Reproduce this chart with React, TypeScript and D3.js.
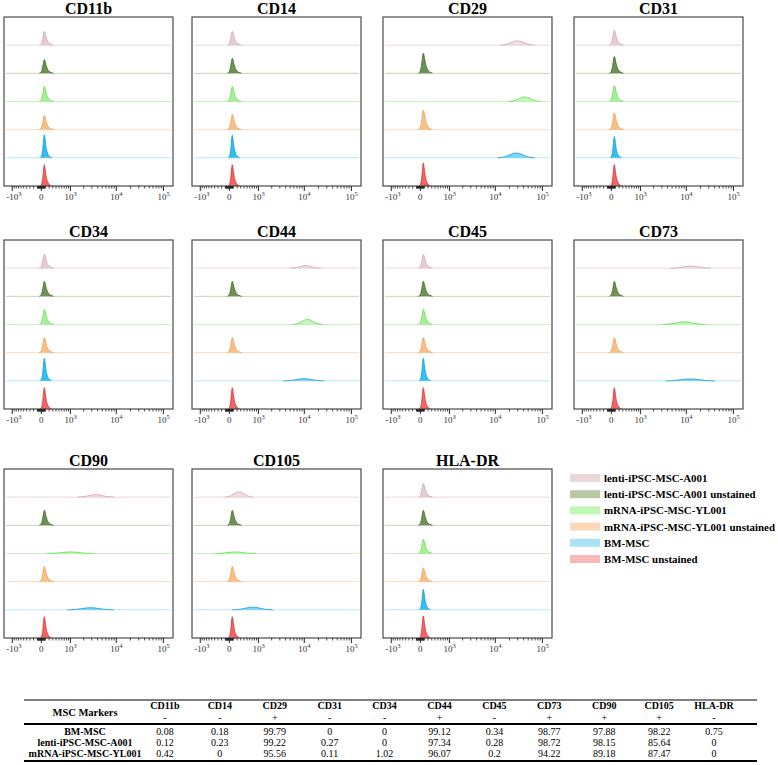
import React from 'react';
import * as d3 from 'd3';

const markers = ['CD11b', 'CD14', 'CD29', 'CD31', 'CD34', 'CD44', 'CD45', 'CD73', 'CD90', 'CD105', 'HLA-DR'];
const samples = [
  'lenti-iPSC-MSC-A001',
  'lenti-iPSC-MSC-A001 unstained',
  'mRNA-iPSC-MSC-YL001',
  'mRNA-iPSC-MSC-YL001 unstained',
  'BM-MSC',
  'BM-MSC unstained',
];
const fillColors = ['#e3c3c8', '#557f37', '#96ee86', '#f7b574', '#13b2ef', '#ef4a4a'];
const strokeColors = ['#cfa7ad', '#3e6a24', '#66d955', '#ef9d4f', '#0a9fdc', '#e22f2f'];
const baseColors = ['#ead8da', '#c9d3bd', '#c4f5bb', '#fbdcc0', '#b8e6f8', '#f7c2c2'];
const swatchColors = ['#ecd7d9', '#b6c9a3', '#c0f6b6', '#fdd8b6', '#aae3f7', '#f9b8b8'];

// peak: [centre fluorescence, spread (asinh units), height (fraction of lane)]
const lentiPeaks = [[70, 1, 0.55], [70, 1, 0.55], [29600, 0.85, 0.16], [70, 1, 0.6], [70, 1, 0.55], [10700, 0.75, 0.1], [70, 1, 0.55], [12300, 1.0, 0.08], [3600, 0.9, 0.1], [250, 0.7, 0.2], [70, 1, 0.55]];
const lentiUnstainedPeaks = [[70, 1, 0.55], [70, 1, 0.6], [70, 1, 0.8], [70, 1, 0.67], [70, 1, 0.6], [70, 1, 0.6], [70, 1, 0.6], [70, 1, 0.6], [70, 1, 0.6], [70, 1, 0.6], [70, 1, 0.6]];
const mrnaPeaks = [[70, 1, 0.6], [70, 1, 0.6], [42000, 0.8, 0.17], [70, 1, 0.64], [70, 1, 0.6], [11700, 0.75, 0.19], [70, 1, 0.6], [9000, 1.1, 0.1], [1000, 1.15, 0.06], [150, 1.0, 0.06], [70, 1, 0.57]];
const mrnaUnstainedPeaks = [[70, 1, 0.57], [70, 1, 0.6], [70, 1, 0.78], [70, 1, 0.67], [70, 1, 0.6], [70, 1, 0.6], [70, 1, 0.6], [70, 1, 0.6], [70, 1, 0.6], [70, 1, 0.6], [70, 1, 0.55]];
const bmPeaks = [[70, 0.8, 0.92], [70, 0.8, 0.9], [28000, 0.9, 0.18], [70, 0.8, 0.85], [70, 0.8, 0.9], [9800, 1.0, 0.08], [70, 0.8, 0.9], [12000, 1.2, 0.07], [2830, 1.15, 0.08], [720, 1.0, 0.1], [70, 0.8, 0.82]];
const bmUnstainedPeaks = [[70, 0.8, 0.85], [70, 0.8, 0.85], [70, 0.8, 0.92], [70, 0.8, 0.85], [70, 0.8, 0.85], [70, 0.8, 0.85], [70, 0.8, 0.85], [70, 0.8, 0.85], [70, 0.8, 0.85], [70, 0.8, 0.85], [70, 0.8, 0.88]];
const samplePeaks = [lentiPeaks, lentiUnstainedPeaks, mrnaPeaks, mrnaUnstainedPeaks, bmPeaks, bmUnstainedPeaks];

// histogram outlines (offset in asinh units, relative count)
const narrowShape = [[-0.24, 0], [-0.13, 0.06], [-0.06, 0.45], [0, 1], [0.05, 0.78], [0.11, 0.42], [0.2, 0.16], [0.32, 0.05], [0.46, 0]];
const broadShape = [[-1, 0], [-0.8, 0.06], [-0.6, 0.2], [-0.4, 0.5], [-0.2, 0.85], [0, 1], [0.2, 0.85], [0.4, 0.5], [0.6, 0.2], [0.8, 0.06], [1, 0]];

const majorTicks = [-1000, 0, 1000, 10000, 100000];
const minorTicks = [
  -900, -800, -700, -600, -500, -400, -300, -200, -100, -90, -80, -70, -60, -50, -40, -30, -20, -10,
  10, 20, 30, 40, 50, 60, 70, 80, 90, 100, 200, 300, 400, 500, 600, 700, 800, 900,
  2000, 3000, 4000, 5000, 6000, 7000, 8000, 9000, 20000, 30000, 40000, 50000, 60000, 70000, 80000, 90000,
];
const tickLabels = [['-10', '3'], ['0', ''], ['10', '3'], ['10', '4'], ['10', '5']];

const tableSigns = ['-', '-', '+', '-', '-', '+', '-', '+', '+', '+', '-'];
const tableRows = ['BM-MSC', 'lenti-iPSC-MSC-A001', 'mRNA-iPSC-MSC-YL001'];
const bmValues = [0.08, 0.18, 99.79, 0, 0, 99.12, 0.34, 98.77, 97.88, 98.22, 0.75];
const lentiValues = [0.12, 0.23, 99.22, 0.27, 0, 97.34, 0.28, 98.72, 98.15, 85.64, 0];
const mrnaValues = [0.42, 0, 95.56, 0.11, 1.02, 96.07, 0.2, 94.22, 89.18, 87.47, 0];
const tableValues = [bmValues, lentiValues, mrnaValues];

const W = 169;
const H = 169;
const colLefts = [4, 192, 383, 574];
const rowTops = [17, 240, 469];
const FONT = '"Liberation Serif", "Times New Roman", serif';

const A = 513;
const T = (v: number) => Math.asinh(v / A);
const xScale = d3.scaleLinear().domain([T(-1550), T(160000)]).range([0, W]);
const laneH = H / samples.length;

function Panel({ mi, left, top }: { mi: number; left: number; top: number }) {
  const clipId = `clip-${mi}`;
  return (
    <g transform={`translate(${left},${top})`}>
      <text x={W / 2} y={-3} textAnchor="middle" fontFamily={FONT} fontWeight="bold" fontSize={16} fill="#000">
        {markers[mi]}
      </text>
      <defs>
        <clipPath id={clipId}>
          <rect x={0} y={0} width={W} height={H} />
        </clipPath>
      </defs>
      <g clipPath={`url(#${clipId})`}>
        {samples.map((s, si) => {
          const base = (si + 1) * laneH;
          const [c, spread, h] = samplePeaks[si][mi];
          const shape = spread >= 0.7 && c > 120 ? broadShape : narrowShape;
          const tc = T(c);
          const area = d3
            .area<number[]>()
            .x((d) => xScale(tc + d[0] * spread))
            .y0(base)
            .y1((d) => base - d[1] * h * laneH)
            .curve(d3.curveBasis);
          const line = d3
            .line<number[]>()
            .x((d) => xScale(tc + d[0] * spread))
            .y((d) => base - d[1] * h * laneH)
            .curve(d3.curveBasis);
          return (
            <g key={s}>
              {si < samples.length - 1 && (
                <line x1={2} x2={W - 2} y1={base} y2={base} stroke={baseColors[si]} strokeWidth={1} />
              )}
              <path d={area(shape) || ''} fill={fillColors[si]} fillOpacity={shape === broadShape ? 0.55 : 0.85} />
              <path d={line(shape) || ''} fill="none" stroke={strokeColors[si]} strokeWidth={0.8} />
            </g>
          );
        })}
      </g>
      <rect x={0} y={0} width={W} height={H} fill="none" stroke="#4a4a4a" strokeWidth={1.2} />
      {minorTicks.map((t) => (
        <line key={`m${t}`} x1={xScale(T(t))} x2={xScale(T(t))} y1={H} y2={H + 2.5} stroke="#222" strokeWidth={0.8} />
      ))}
      {majorTicks.map((t, i) => (
        <g key={`M${t}`}>
          <line x1={xScale(T(t))} x2={xScale(T(t))} y1={H} y2={H + 5} stroke="#222" strokeWidth={1} />
          <text
            x={xScale(T(t)) + (tickLabels[i][1] ? -6 : 0)}
            y={H + 14}
            textAnchor={tickLabels[i][1] ? 'start' : 'middle'}
            fontFamily={FONT}
            fontSize={9}
            fill="#333"
          >
            {tickLabels[i][0]}
            {tickLabels[i][1] && (
              <tspan fontSize={6.5} dy={-4.5}>
                {tickLabels[i][1]}
              </tspan>
            )}
          </text>
        </g>
      ))}
    </g>
  );
}

export default function App() {
  const col = d3.scaleBand<string>().domain(markers).range([137.5, 741.5]);
  const legendY = d3.scalePoint<string>().domain(samples).range([478, 559]);
  const rowY = d3.scalePoint<string>().domain(tableRows).range([734.5, 756.5]);
  return (
    <svg width={778} height={765} style={{ position: 'absolute', left: 0, top: 0, background: '#fff' }}>
      <rect width={778} height={765} fill="#fff" />
      {markers.map((m, i) => (
        <Panel key={m} mi={i} left={colLefts[i % 4]} top={rowTops[Math.floor(i / 4)]} />
      ))}
      {samples.map((s, i) => (
        <g key={s}>
          <rect x={570} y={(legendY(s) || 0) - 4} width={30} height={8} fill={swatchColors[i]} />
          <text x={604} y={(legendY(s) || 0) + 4} fontFamily={FONT} fontWeight="bold" fontSize={10.9} fill="#000">
            {s}
          </text>
        </g>
      ))}
      <line x1={24} x2={757} y1={700} y2={700} stroke="#000" strokeWidth={1} />
      <text x={85} y={716} textAnchor="middle" fontFamily={FONT} fontWeight="bold" fontSize={10.5}>
        MSC Markers
      </text>
      {markers.map((m, i) => (
        <g key={`h${m}`}>
          <text x={(col(m) || 0) + col.bandwidth() / 2} y={709} textAnchor="middle" fontFamily={FONT} fontWeight="bold" fontSize={10}>
            {m}
          </text>
          <text x={(col(m) || 0) + col.bandwidth() / 2} y={721} textAnchor="middle" fontFamily={FONT} fontSize={10}>
            {tableSigns[i]}
          </text>
        </g>
      ))}
      <line x1={24} x2={757} y1={724} y2={724} stroke="#000" strokeWidth={2} />
      {tableRows.map((r, ri) => (
        <g key={r}>
          <text x={85} y={rowY(r)} textAnchor="middle" fontFamily={FONT} fontWeight="bold" fontSize={10}>
            {r}
          </text>
          {tableValues[ri].map((v, i) => (
            <text key={i} x={(col(markers[i]) || 0) + col.bandwidth() / 2} y={rowY(r)} textAnchor="middle" fontFamily={FONT} fontSize={10}>
              {String(v)}
            </text>
          ))}
        </g>
      ))}
      <line x1={24} x2={757} y1={761} y2={761} stroke="#000" strokeWidth={2} />
    </svg>
  );
}
